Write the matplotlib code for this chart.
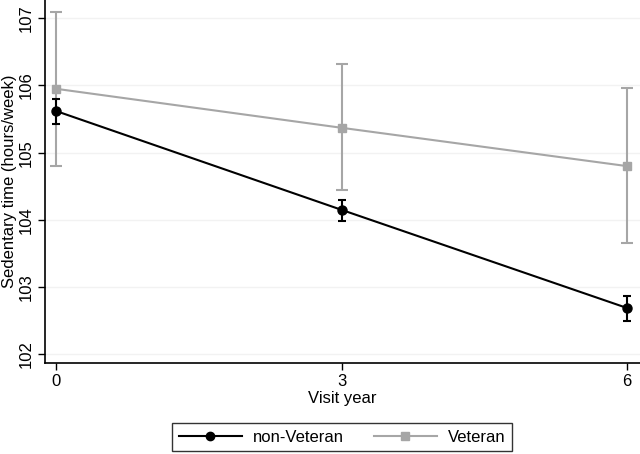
import matplotlib.pyplot as plt
from matplotlib.lines import Line2D

plt.rcParams['font.family'] = ['Liberation Sans', 'DejaVu Sans']

# data
years = [0, 3, 6]
non_vet = [105.62, 104.15, 102.69]
non_vet_lo = [105.42, 103.99, 102.50]
non_vet_hi = [105.80, 104.30, 102.87]
vet = [105.95, 105.37, 104.80]
vet_lo = [104.80, 104.44, 103.65]
vet_hi = [107.09, 106.32, 105.96]

gray = '#a6a6a6'
fs = 12

fig = plt.figure(figsize=(6.4, 4.54), dpi=100)
ax = fig.add_axes([0.0703, 0.2, 0.929, 0.8])

# gray series first so black sits on top
ax.errorbar(years, vet,
            yerr=[[v - l for v, l in zip(vet, vet_lo)], [h - v for v, h in zip(vet, vet_hi)]],
            color=gray, marker='s', markersize=6, lw=1.5, elinewidth=1.5,
            capsize=4, capthick=1.5, zorder=2)
ax.errorbar(years, non_vet,
            yerr=[[v - l for v, l in zip(non_vet, non_vet_lo)], [h - v for v, h in zip(non_vet, non_vet_hi)]],
            color='black', marker='o', markersize=6.5, lw=1.5, elinewidth=1.5,
            capsize=3, capthick=1.5, zorder=3)

ax.set_xlim(-0.115, 6.13)
ax.set_ylim(101.87, 107.27)
ax.set_xticks(years)
ax.set_yticks([102, 103, 104, 105, 106, 107])
ax.tick_params(axis='y', labelrotation=90, labelsize=fs, length=5, width=1, pad=3)
ax.tick_params(axis='x', labelsize=fs, length=5, width=1, pad=3)
for lbl in ax.get_yticklabels():
    lbl.set_va('center')

ax.grid(axis='y', color='#f2f2f2', lw=1)
ax.set_axisbelow(True)
for s in ['top', 'right']:
    ax.spines[s].set_visible(False)
for s in ['left', 'bottom']:
    ax.spines[s].set_linewidth(1.2)

ax.set_xlabel('Visit year', fontsize=fs, labelpad=1)
ax.set_ylabel('Sedentary time (hours/week)', fontsize=fs, labelpad=1)

handles = [Line2D([], [], color='black', marker='o', markersize=6, lw=1.5),
           Line2D([], [], color=gray, marker='s', markersize=5.5, lw=1.5)]
leg = fig.legend(handles, ['non-Veteran', 'Veteran'], ncol=2, loc='center',
                 bbox_to_anchor=(342 / 640, 1 - 437 / 454), fontsize=fs,
                 frameon=True, fancybox=False, edgecolor='black',
                 handlelength=3.8, handletextpad=0.65, columnspacing=1.8,
                 borderpad=0.4, borderaxespad=0)
leg.get_frame().set_linewidth(1)

fig.savefig('out.png', dpi=100)
